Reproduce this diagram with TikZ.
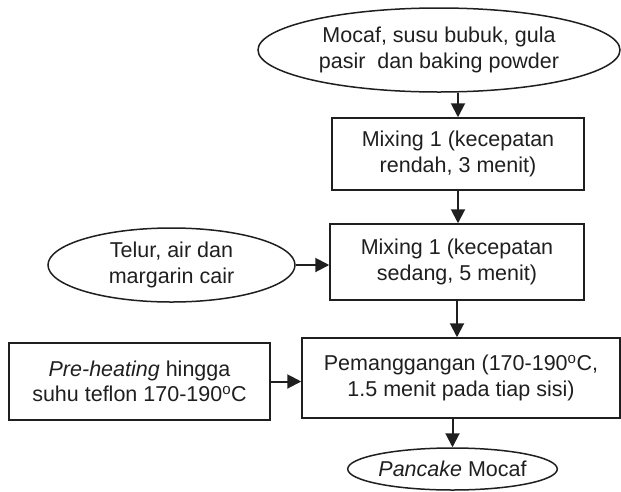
\documentclass[tikz,border=0pt]{standalone}
\usepackage{fontspec}
\setmainfont{Liberation Sans}
\usetikzlibrary{shapes.geometric,arrows.meta}
\newcommand{\degsign}{\textsuperscript{o}}
\begin{document}
\begin{tikzpicture}[x=1pt,y=-1pt,
  txt/.style={font=\fontsize{21.5}{25.5}\selectfont, align=center, text=black!88, inner sep=0pt},
  procbox/.style={txt, draw=black!88, line width=1.5pt, rectangle},
  oval/.style={txt, draw=black!88, line width=1.5pt, ellipse},
  flow/.style={draw=black!88, line width=2pt, -{Triangle[length=14pt,width=14pt]}}]
\useasboundingbox (0,0) rectangle (621,491);
\node[oval, minimum width=362pt, minimum height=84pt] (top) at (439,50) {Mocaf, susu bubuk, gula\\pasir\ \ dan baking powder};
\node[procbox, minimum width=252pt, minimum height=72pt] (m1) at (458,154) {Mixing 1 (kecepatan\\rendah, 3 menit)};
\node[procbox, minimum width=254pt, minimum height=76pt] (m2) at (457,262) {Mixing 1 (kecepatan\\sedang, 5 menit)};
\node[oval, minimum width=247pt, minimum height=74pt] (telur) at (171.5,265) {Telur, air dan\\margarin cair};
\node[procbox, minimum width=318pt, minimum height=80pt] (bake) at (461,378) {Pemanggangan (170-190\degsign C,\\1.5 menit pada tiap sisi)};
\node[procbox, minimum width=261pt, minimum height=77pt] (pre) at (139.5,381.5) {\textit{Pre-heating} hingga\\suhu teflon 170-190\degsign C};
\node[oval, minimum width=181pt, minimum height=42pt] (pan) at (452.5,469) {\textit{Pancake} Mocaf};
\draw[flow] (m1.north |- top.south) -- (m1.north);
\draw[flow] (m1.south) -- (m1.south |- m2.north);
\draw[flow] (telur.east) -- (telur.east -| m2.west);
\draw[flow] (m2.south) -- (m2.south |- bake.north);
\draw[flow] (pre.east) -- (pre.east -| bake.west);
\draw[flow] (bake.south -| pan.north) -- (pan.north);
\end{tikzpicture}
\end{document}
